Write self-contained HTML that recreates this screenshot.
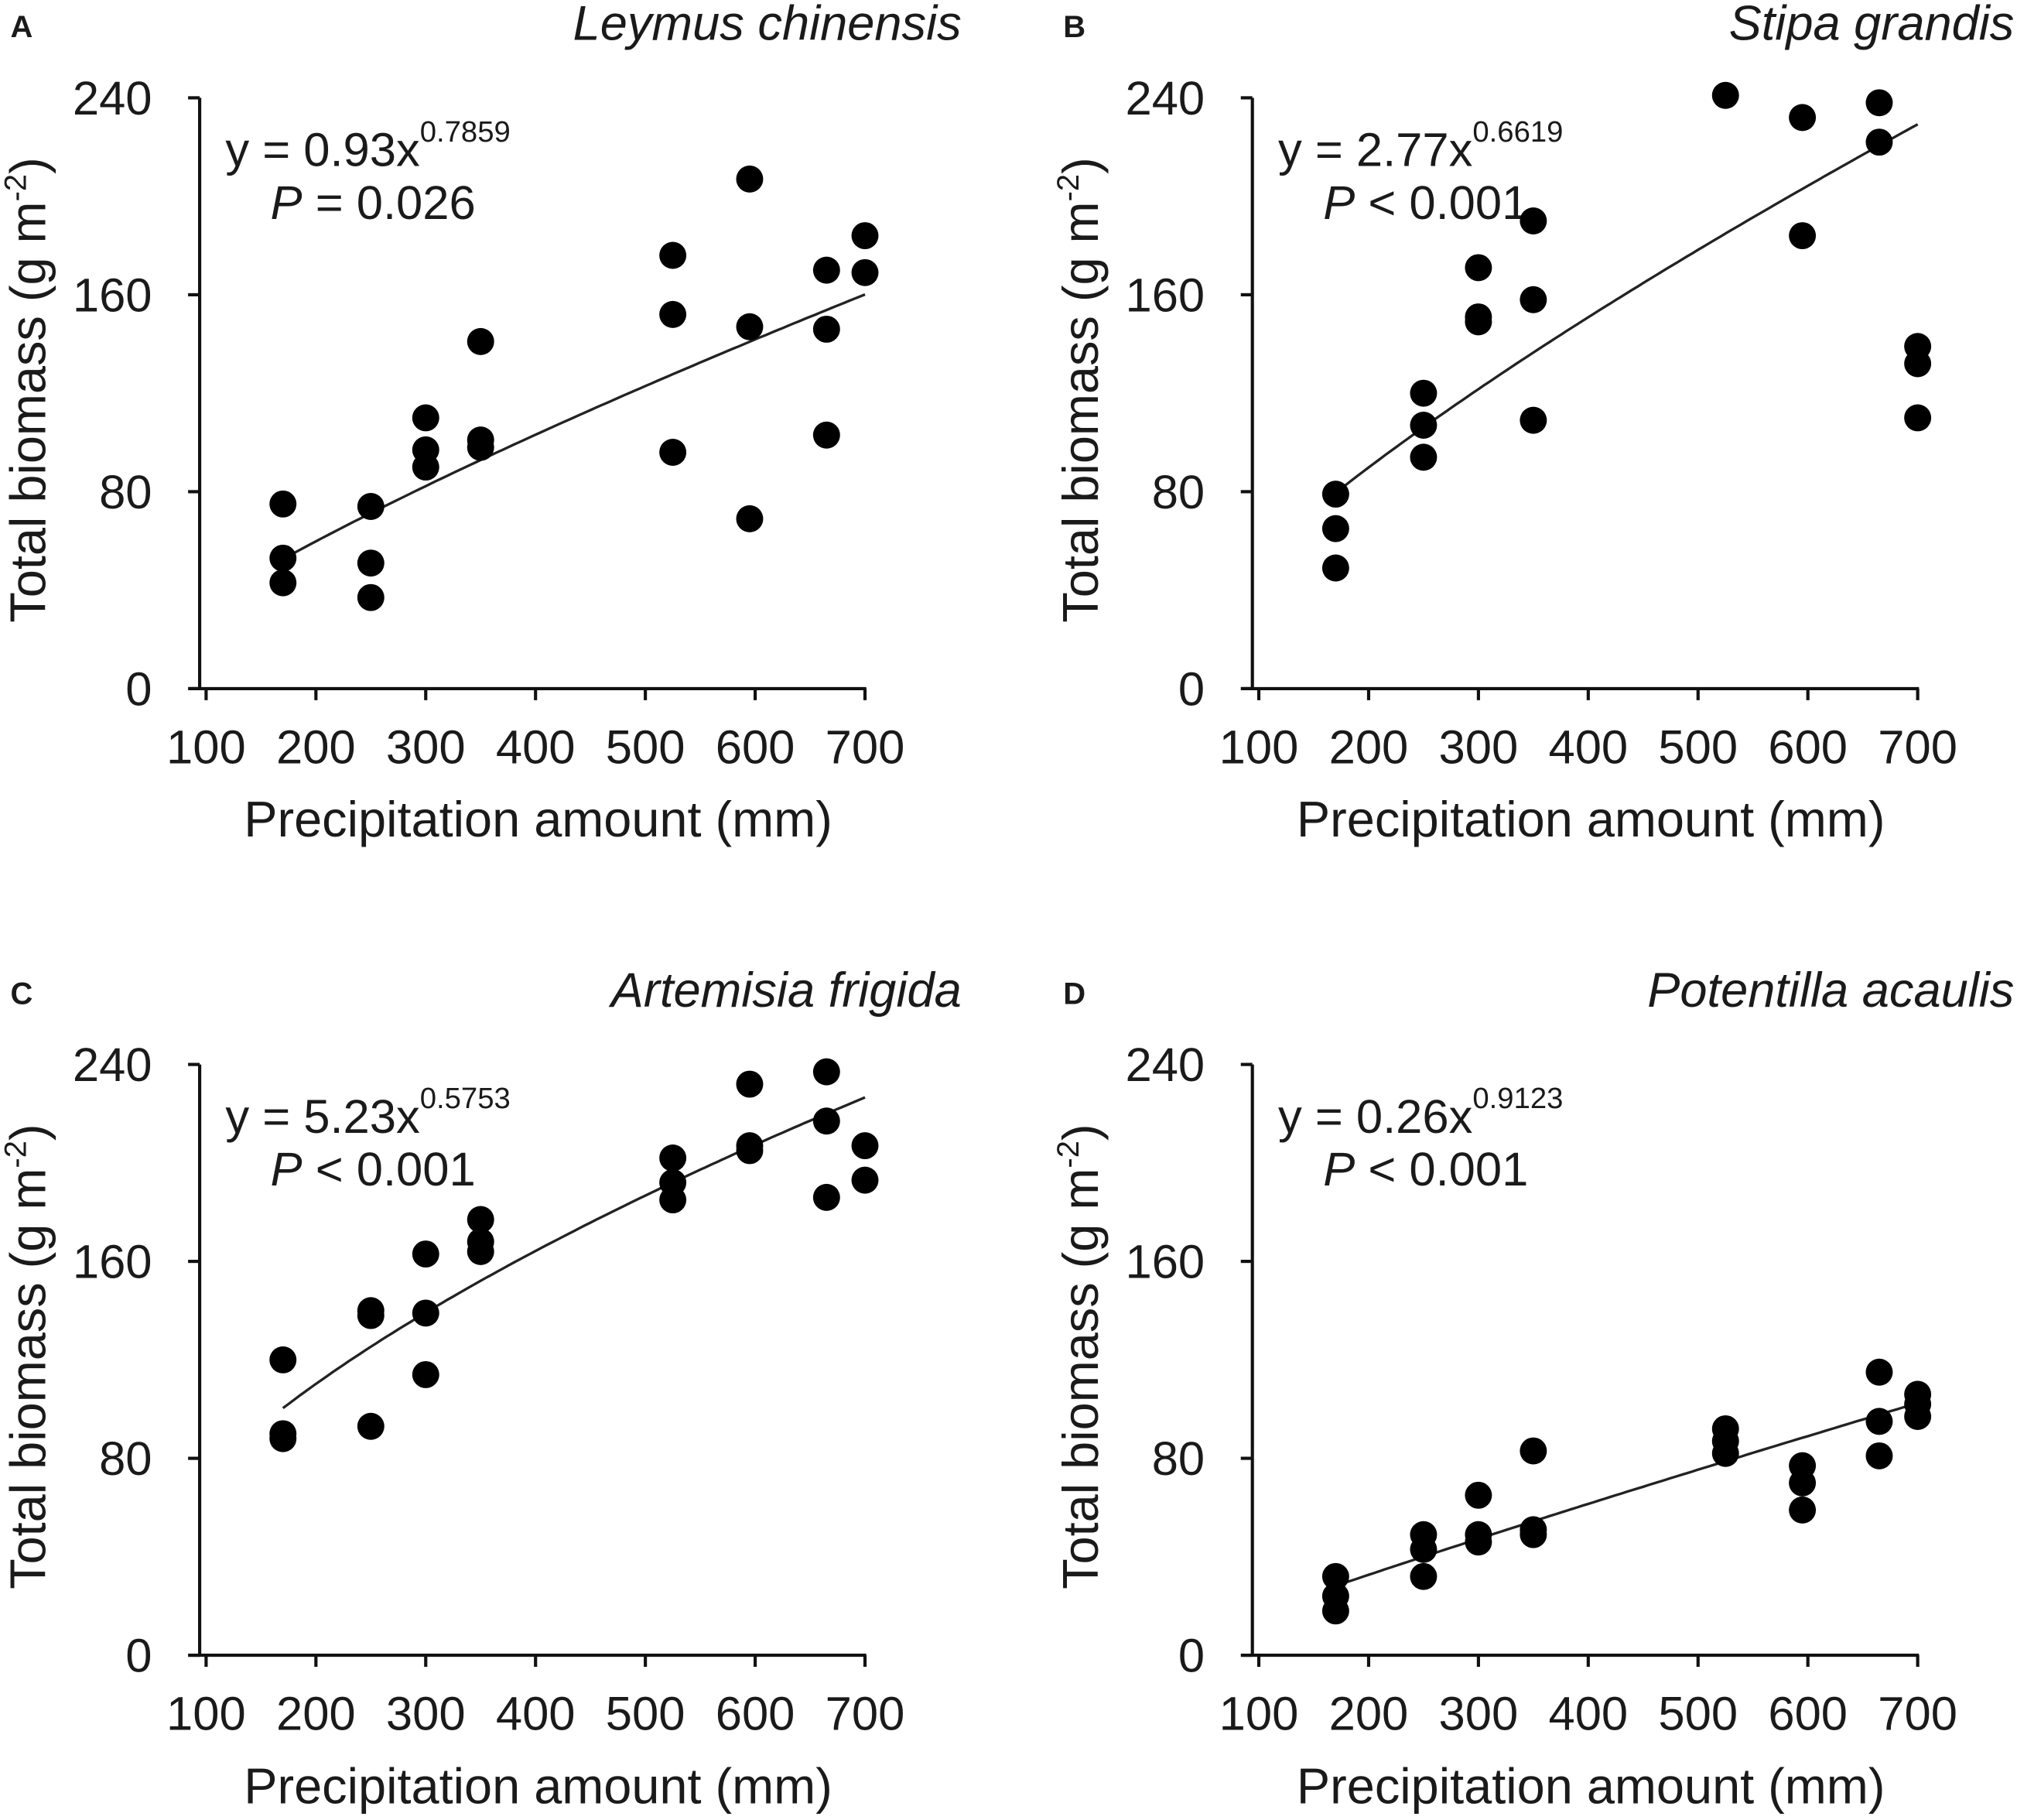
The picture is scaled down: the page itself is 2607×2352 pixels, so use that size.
<!DOCTYPE html>
<html><head><meta charset="utf-8"><style>
html,body{margin:0;padding:0;background:#fff}
svg{display:block}
text{font-family:"Liberation Sans",Arial,sans-serif;fill:#1a1a1a}
</style></head><body>
<svg id="fig" width="2607" height="2352" viewBox="0 0 1567 1414" xmlns="http://www.w3.org/2000/svg"></svg>
<script>
const xTicks=[100,200,300,400,500,600,700];
const yTicks=[0,80,160,240];
const panelLetters=["A","B","C","D"];
const species=["Leymus chinensis","Stipa grandis","Artemisia frigida","Potentilla acaulis"];
const coefA=["0.93","2.77","5.23","0.26"];
const expB=["0.7859","0.6619","0.5753","0.9123"];
const fitA=[0.93,1.71,5.23,0.26];
const fitB=[0.7859,0.7477,0.5753,0.9123];
const pText=["= 0.026","< 0.001","< 0.001","< 0.001"];
const xsA=[170,170,170,250,250,250,300,300,300,350,350,350,525,525,525,595,595,595,665,665,665,700,700];
const ysA=[75,53,43,74,51,37,110,97,90,141,101,98,176,152,96,207,147,69,170,146,103,184,169];
const xsB=[170,170,170,250,250,250,300,300,300,350,350,350,525,595,595,665,665,700,700,700];
const ysB=[79,65,49,120,107,94,171,151,149,190,158,109,241,232,184,238,222,139,132,110];
const xsC=[170,170,170,250,250,250,300,300,300,350,350,350,525,525,525,595,595,595,665,665,665,700,700];
const ysC=[120,90,88,140,138,93,163,139,114,177,168,164,202,192,185,232,207,205,237,217,186,207,193];
const xsD=[170,170,170,250,250,250,300,300,300,350,350,350,525,525,525,595,595,595,665,665,665,700,700,700];
const ysD=[32,24,18,49,43,32,65,49,46,83,51,49,92,87,82,77,70,59,115,95,81,106,102,97];
const seriesX=[xsA,xsB,xsC,xsD];
const seriesY=[ysA,ysB,ysC,ysD];

const NS="http://www.w3.org/2000/svg";
const svg=document.getElementById('fig');
function mk(tag,attrs,parent,txt){const e=document.createElementNS(NS,tag);for(const k in attrs)e.setAttribute(k,attrs[k]);if(txt!==undefined)e.textContent=txt;parent.appendChild(e);return e;}
const offs=[[0,0],[818,0],[0,751],[818,751]];
for(let p=0;p<4;p++){
  const ox=offs[p][0],oy=offs[p][1];
  const g=mk('g',{},svg);
  
  
  const X0=155+ox, Y0=535+oy;
  const sx=v=>ox+160+(v-100)*0.8533;
  const sy=v=>oy+535-v*1.9125;
  const letter=mk('text',{x:ox+8,y:oy+29,'font-size':24,'font-weight':'bold'},g,panelLetters[p]);
  
  
  const title=mk('text',{x:ox+747,y:oy+31,'font-size':38,'font-style':'italic','text-anchor':'end'},g,species[p]);
  
  
  const ya=mk('line',{x1:X0,y1:sy(240),x2:X0,y2:Y0+1,stroke:'#111','stroke-width':2.5},g);
  
  
  const xa=mk('line',{x1:X0-8,y1:Y0,x2:sx(700)+1,y2:Y0,stroke:'#111','stroke-width':2.5},g);
  
  
  yTicks.forEach(t=>{
    mk('line',{x1:X0-9,y1:sy(t),x2:X0,y2:sy(t),stroke:'#111','stroke-width':2.5},g);
    const tl=mk('text',{x:X0-37,y:sy(t)+13,'font-size':37,'text-anchor':'end'},g,String(t));
    
    
  });
  xTicks.forEach(t=>{
    mk('line',{x1:sx(t),y1:Y0,x2:sx(t),y2:Y0+9,stroke:'#111','stroke-width':2.5},g);
    const tl=mk('text',{x:sx(t),y:Y0+58,'font-size':37,'text-anchor':'middle'},g,String(t));
    
    
  });
  const xt=mk('text',{x:ox+418,y:oy+650,'font-size':39,'text-anchor':'middle'},g,'Precipitation amount (mm)');
  
  
  const yt=mk('text',{transform:`translate(${ox+35},${oy+303}) rotate(-90)`,'font-size':39,'text-anchor':'middle'},g);
  
  
  mk('tspan',{},yt,'Total biomass (g m');
  mk('tspan',{'font-size':24,dy:-15},yt,'-2');
  mk('tspan',{dy:15},yt,')');
  const eq=mk('text',{x:ox+175,y:oy+129,'font-size':37},g);
  
  
  mk('tspan',{},eq,'y = '+coefA[p]+'x');
  mk('tspan',{'font-size':23,dy:-19},eq,expB[p]);
  const pl=mk('text',{x:ox+210,y:oy+170,'font-size':37},g);
  
  
  mk('tspan',{'font-style':'italic'},pl,'P');
  mk('tspan',{},pl,' '+pText[p]);
  const a=fitA[p],b=fitB[p];
  let d='';
  for(let v=170;v<=700;v+=5){d+=(v===170?'M':'L')+sx(v).toFixed(1)+','+sy(a*Math.pow(v,b)).toFixed(1);}
  const fit=mk('path',{d:d,fill:'none',stroke:'#222','stroke-width':2},g);
  
  
  const xs=seriesX[p],ys=seriesY[p];
  for(let i=0;i<xs.length;i++){
    const c=mk('circle',{cx:sx(xs[i]),cy:sy(ys[i]),r:10.5,fill:'#000'},g);
    
    
  }
}
</script>
</body></html>
